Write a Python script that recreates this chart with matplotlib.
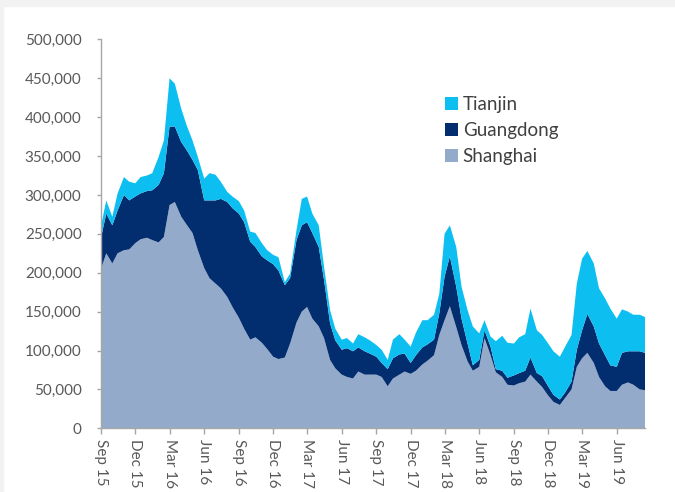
import matplotlib
matplotlib.use('Agg')
import matplotlib.pyplot as plt
import matplotlib.dates as mdates
import matplotlib.ticker as mticker
import pandas as pd

# Semi-monthly observation dates (Sep 2015 - Aug 2019)
dates = pd.date_range('2015-09-01', '2019-08-15', freq='SMS')

# Values in thousands
shanghai_k = [205, 225, 212, 225, 229, 230, 238, 243, 245, 242, 239, 246,
              287, 291, 272, 262, 251, 229, 206, 193, 186, 180, 169, 156,
              142, 128, 114, 117, 110, 102, 92, 89, 91, 109, 136, 150,
              156, 141, 131, 116, 88, 77, 69, 66, 64, 73, 69, 69,
              69, 66, 54, 64, 69, 73, 70, 74, 82, 87, 94, 120,
              139, 157, 130, 107, 86, 74, 79, 116, 94, 72, 66, 56,
              55, 58, 60, 69, 60, 53, 42, 34, 30, 39, 50, 79,
              90, 97, 84, 66, 54, 48, 48, 56, 59, 56, 50, 49]
guangdong_k = [40, 51, 49, 55, 71, 63, 60, 59, 60, 64, 74, 82,
               101, 97, 96, 96, 94, 103, 87, 100, 107, 115, 122, 127,
               134, 137, 126, 116, 111, 114, 119, 114, 93, 84, 106, 111,
               109, 110, 102, 75, 47, 36, 32, 37, 35, 31, 30, 27,
               23, 18, 22, 26, 26, 23, 14, 20, 22, 21, 20, 28,
               56, 64, 52, 34, 23, 7, 9, 10, 11, 4, 8, 9,
               13, 13, 14, 22, 11, 14, 12, 9, 7, 7, 10, 22,
               36, 50, 47, 43, 40, 33, 31, 41, 40, 43, 49, 48]
tianjin_k = [15, 17, 11, 22, 23, 24, 17, 21, 20, 22, 36, 42,
             62, 55, 43, 32, 25, 17, 28, 35, 33, 22, 13, 15,
             16, 15, 13, 18, 17, 13, 12, 17, 4, 6, 13, 34,
             33, 25, 28, 17, 17, 15, 13, 13, 10, 17, 18, 17,
             15, 17, 12, 24, 26, 18, 21, 29, 35, 31, 32, 25,
             55, 40, 51, 41, 43, 50, 34, 13, 13, 36, 45, 45,
             41, 46, 47, 63, 55, 53, 55, 56, 55, 59, 60, 85,
             92, 81, 81, 71, 73, 73, 62, 56, 51, 47, 47, 46]

series_names = ['Shanghai', 'Guangdong', 'Tianjin']
colors = ['#94aacb', '#022d6e', '#0dbef1']

shanghai = [v * 1000 for v in shanghai_k]
guangdong = [v * 1000 for v in guangdong_k]
tianjin = [v * 1000 for v in tianjin_k]

plt.rcParams['font.family'] = ['Lato', 'DejaVu Sans']

W, H = 675, 492
fig = plt.figure(figsize=(W / 100, H / 100), dpi=100)
fig.patch.set_facecolor('white')
fig.add_artist(plt.Rectangle((0, 1 - 6 / H), 1, 6 / H, transform=fig.transFigure,
                             color='#f2f2f2', zorder=0))
fig.add_artist(plt.Rectangle((0, 0), 3 / W, 1, transform=fig.transFigure,
                             color='#f2f2f2', zorder=0))

ax = fig.add_axes([101 / W, (H - 428.3) / H, 544 / W, 388.9 / H])
polys = ax.stackplot(dates, shanghai, guangdong, tianjin, colors=colors,
                     labels=series_names, linewidth=0)

ax.set_xlim(dates[0], dates[-1])
ax.set_ylim(0, 500000)

ax.yaxis.set_major_locator(mticker.MultipleLocator(50000))
ax.yaxis.set_major_formatter(mticker.FuncFormatter(lambda v, p: f'{v:,.0f}'))
ax.xaxis.set_major_locator(mdates.MonthLocator(bymonth=[3, 6, 9, 12]))
ax.xaxis.set_major_formatter(mdates.DateFormatter('%b %y'))

for s in ['top', 'right']:
    ax.spines[s].set_visible(False)
for s in ['left', 'bottom']:
    ax.spines[s].set_color('#a6a6a6')
    ax.spines[s].set_linewidth(1.0)

ax.tick_params(axis='y', direction='out', length=3, width=1, color='#a6a6a6',
               labelsize=11, labelcolor='#595959', pad=11)
ax.tick_params(axis='x', direction='out', length=4, width=1, color='#a6a6a6',
               labelsize=11, labelcolor='#595959', pad=4)
for lbl in ax.get_xticklabels():
    lbl.set_rotation(270)
    lbl.set_ha('center')
    lbl.set_va('top')

handles = polys[::-1]
labels = series_names[::-1]
leg = ax.legend(handles, labels, loc='upper left',
                bbox_to_anchor=(445 / W, 1 - 96 / H), bbox_transform=fig.transFigure,
                frameon=False, fontsize=13.5, borderpad=0, borderaxespad=0,
                handlelength=0.7, handleheight=0.7, handletextpad=0.25,
                labelspacing=0.47)
for t in leg.get_texts():
    t.set_color('#404040')

fig.savefig('out.png', dpi=100, facecolor=fig.get_facecolor())
